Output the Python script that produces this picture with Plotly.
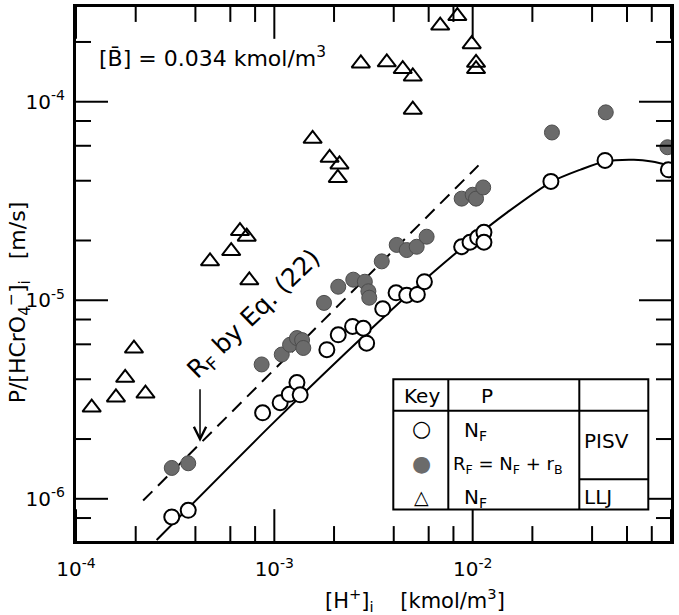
import plotly.graph_objects as go
import math

# ---------------- data ----------------
open_x = [3.04e-4, 3.68e-4, 8.73e-4, 1.07e-3, 1.19e-3, 1.30e-3, 1.35e-3, 1.84e-3, 2.10e-3,
          2.48e-3, 2.81e-3, 2.92e-3, 3.52e-3, 4.11e-3, 4.65e-3, 5.26e-3, 5.71e-3, 8.8e-3,
          9.7e-3, 1.06e-2, 1.14e-2, 1.14e-2, 2.48e-2, 4.65e-2, 9.7e-2]
open_y = [8.1e-7, 8.75e-7, 2.71e-6, 3.05e-6, 3.36e-6, 3.85e-6, 3.34e-6, 5.64e-6, 6.7e-6,
          7.38e-6, 7.23e-6, 6.08e-6, 9.06e-6, 1.09e-5, 1.06e-5, 1.07e-5, 1.24e-5, 1.86e-5,
          1.96e-5, 2.07e-5, 2.2e-5, 1.96e-5, 3.97e-5, 5.06e-5, 4.54e-5]

filled_x = [3.04e-4, 3.68e-4, 8.63e-4, 1.09e-3, 1.2e-3, 1.3e-3, 1.38e-3, 1.40e-3, 1.78e-3,
            2.10e-3, 2.50e-3, 2.86e-3, 2.98e-3, 3.01e-3, 3.48e-3, 4.14e-3, 4.65e-3, 5.22e-3,
            5.86e-3, 8.8e-3, 1.0e-2, 1.04e-2, 1.13e-2, 2.51e-2, 4.69e-2, 9.6e-2]
filled_y = [1.43e-6, 1.51e-6, 4.75e-6, 5.33e-6, 5.97e-6, 6.45e-6, 6.3e-6, 5.75e-6, 9.7e-6,
            1.17e-5, 1.27e-5, 1.24e-5, 1.11e-5, 1.03e-5, 1.57e-5, 1.90e-5, 1.79e-5, 1.86e-5,
            2.09e-5, 3.25e-5, 3.4e-5, 3.25e-5, 3.7e-5, 7.0e-5, 8.84e-5, 5.9e-5]

tri_x = [1.2e-4, 1.59e-4, 1.77e-4, 2.24e-4, 1.96e-4, 4.74e-4, 6.06e-4, 6.71e-4, 7.26e-4,
         7.48e-4, 1.56e-3, 1.90e-3, 2.13e-3, 2.09e-3, 2.73e-3, 3.69e-3, 4.44e-3, 4.99e-3,
         4.99e-3, 6.86e-3, 8.37e-3, 9.89e-3, 1.04e-2, 1.04e-2]
tri_y = [2.88e-6, 3.24e-6, 4.07e-6, 3.39e-6, 5.71e-6, 1.57e-5, 1.77e-5, 2.23e-5, 2.09e-5,
         1.26e-5, 6.5e-5, 5.22e-5, 4.83e-5, 4.13e-5, 1.56e-4, 1.58e-4, 1.46e-4, 1.34e-4,
         9.12e-5, 2.42e-4, 2.70e-4, 1.95e-4, 1.57e-4, 1.46e-4]

curve_x = [2.55e-4, 1e-3, 3e-3, 6e-3, 1e-2, 1.5e-2, 2.5e-2, 3.5e-2, 4.65e-2, 6.5e-2, 8e-2, 1e-1]
curve_y = [6.2e-7, 2.44e-6, 7.0e-6, 1.32e-5, 2.03e-5, 2.78e-5, 3.95e-5, 4.55e-5, 5.0e-5, 5.1e-5, 5.0e-5, 4.75e-5]

dash_x = [2.18e-4, 1.07e-2]
dash_y = [9.8e-7, 4.78e-5]

x_major = [1e-4, 1e-3, 1e-2, 1e-1]
x_major_text = ["10<sup>-4</sup>", "10<sup>-3</sup>", "10<sup>-2</sup>", "10<sup>-1</sup>"]
x_minor = [2e-4, 4e-4, 6e-4, 8e-4, 2e-3, 4e-3, 6e-3, 8e-3, 2e-2, 4e-2, 6e-2, 8e-2]
y_major = [1e-6, 1e-5, 1e-4]
y_major_text = ["10<sup>-6</sup>", "10<sup>-5</sup>", "10<sup>-4</sup>"]
y_minor = [8e-7, 2e-6, 4e-6, 6e-6, 8e-6, 2e-5, 4e-5, 6e-5, 8e-5, 2e-4]

x_range = [1e-4, 1e-1]
y_range = [6.13e-7, 3e-4]

arrow_tip = (4.22e-4, 1.94e-6)
eq_label_pos = (7.9e-4, 8.45e-6)

# ---------------- layout geometry (pixels) ----------------
W, H = 679, 615
L, R, T, B = 76, 8, 4, 74
PW, PH = W - L - R, H - T - B
FONT = "DejaVu Sans"
MAJ_LEN, MIN_LEN = 32, 15

x_lr = [math.log10(v) for v in x_range]
y_lr = [math.log10(v) for v in y_range]
x_dec_px = PW / (x_lr[1] - x_lr[0])
y_dec_px = PH / (y_lr[1] - y_lr[0])


def px(xp):
    return (xp - L) / PW


def py(yp):
    return (H - B - yp) / PH


fig = go.Figure()

fig.add_trace(go.Scatter(x=curve_x, y=curve_y, mode="lines",
                         line=dict(color="black", width=2, shape="spline", smoothing=0.8), hoverinfo="skip"))
fig.add_trace(go.Scatter(x=dash_x, y=dash_y, mode="lines",
                         line=dict(color="black", width=2, dash="13px,8px"), hoverinfo="skip"))
fig.add_trace(go.Scatter(x=tri_x, y=tri_y, mode="markers",
                         marker=dict(symbol="triangle-up-open", size=16, color="black", line=dict(width=2))))
fig.add_trace(go.Scatter(x=filled_x, y=filled_y, mode="markers",
                         marker=dict(symbol="circle", size=15, color="#6b6b6b", line=dict(color="#4d4d4d", width=1))))
fig.add_trace(go.Scatter(x=open_x, y=open_y, mode="markers",
                         marker=dict(symbol="circle", size=15, color="white", line=dict(color="black", width=2))))

# tick marks on all four sides, drawn as line segments in data space of the log axes
tx, ty = [], []
for vals, ln in ((x_major, MAJ_LEN), (x_minor, MIN_LEN)):
    f = 10 ** (ln / y_dec_px)
    for v in vals:
        tx += [v, v, None, v, v, None]
        ty += [y_range[0], y_range[0] * f, None, y_range[1] / f, y_range[1], None]
for vals, ln in ((y_major, MAJ_LEN), (y_minor, MIN_LEN)):
    f = 10 ** (ln / x_dec_px)
    for v in vals:
        tx += [x_range[0], x_range[0] * f, None, x_range[1] / f, x_range[1], None]
        ty += [v, v, None, v, v, None]
fig.add_trace(go.Scatter(x=tx, y=ty, mode="lines", line=dict(color="black", width=2),
                         hoverinfo="skip", connectgaps=False))

axis_common = dict(type="log", showgrid=False, zeroline=False, showline=True, linewidth=3, linecolor="black",
                   mirror=True, ticks="", tickfont=dict(family=FONT, size=20, color="black"))

fig.update_xaxes(**axis_common, range=x_lr, tickmode="array",
                 tickvals=x_major, ticktext=x_major_text, ticklabelstandoff=8)
fig.update_yaxes(**axis_common, range=y_lr, tickmode="array",
                 tickvals=y_major, ticktext=y_major_text, ticklabelstandoff=4)

shapes = []
# key table
bx0, bx1, by0, by1 = 393.3, 648.3, 378.3, 509.3
shapes.append(dict(type="rect", xref="paper", yref="paper", x0=px(bx0), x1=px(bx1), y0=py(by1), y1=py(by0),
                   line=dict(color="black", width=2), fillcolor="white", layer="above"))
shapes.append(dict(type="line", xref="paper", yref="paper", x0=px(bx0), x1=px(bx1), y0=py(410), y1=py(410),
                   line=dict(color="black", width=2), layer="above"))
for xv in (448.3, 579.3):
    shapes.append(dict(type="line", xref="paper", yref="paper", x0=px(xv), x1=px(xv), y0=py(by1), y1=py(by0),
                       line=dict(color="black", width=2), layer="above"))
shapes.append(dict(type="line", xref="paper", yref="paper", x0=px(579.3), x1=px(bx1), y0=py(479), y1=py(479),
                   line=dict(color="black", width=2), layer="above"))

ann = []


def txt(x, y, s, size=20, xanchor="center", color="black", angle=0):
    ann.append(dict(xref="paper", yref="paper", x=px(x), y=py(y), text=s, showarrow=False,
                    xanchor=xanchor, yanchor="middle", textangle=angle,
                    font=dict(family=FONT, size=size, color=color)))


txt(421.7, 395, "Key")
txt(486.7, 395, "P")
txt(421.7, 428.3, "○", size=22)
txt(421.7, 463.3, "●", size=22, color="#6b6b6b")
txt(421.7, 496.7, "△", size=19)
txt(461.7, 430, "N<sub>F</sub>", xanchor="left")
txt(451, 465, "R<sub>F</sub> = N<sub>F</sub> + r<sub>B</sub>", size=18, xanchor="left")
txt(461.7, 498, "N<sub>F</sub>", xanchor="left")
txt(582, 440.5, "PISV", xanchor="left")
txt(582, 496.7, "LLJ", xanchor="left")

txt(97, 54, "[B\u0304] = 0.034 kmol/m<sup>3</sup>", size=22, xanchor="left")
txt(415, 600, "[H<sup>+</sup>]<sub>i</sub>\u00a0\u00a0\u00a0\u00a0[kmol/m<sup>3</sup>]", size=21)
ann.append(dict(xref="paper", yref="paper", x=px(18), y=py(301),
                text="P/[HCrO<sub>4</sub><sup>−</sup>]<sub>i</sub>\u00a0\u00a0\u00a0[m/s]", showarrow=False,
                textangle=-90, xanchor="center", yanchor="middle", font=dict(family=FONT, size=22, color="black")))

ann.append(dict(xref="x", yref="y", x=math.log10(eq_label_pos[0]), y=math.log10(eq_label_pos[1]),
                text="R<sub>F</sub> by Eq. (22)", showarrow=False, textangle=-44,
                font=dict(family=FONT, size=25, color="black")))
ann.append(dict(xref="x", yref="y", x=math.log10(arrow_tip[0]), y=math.log10(arrow_tip[1]), text="",
                showarrow=True, arrowhead=5, arrowsize=1.6, arrowwidth=1.5, arrowcolor="black",
                ax=0, ay=-54))

fig.update_layout(width=W, height=H, margin=dict(l=L, r=R, t=T, b=B), showlegend=False,
                  plot_bgcolor="white", paper_bgcolor="white", shapes=shapes, annotations=ann,
                  font=dict(family=FONT, color="black"))

fig.write_html("out.html", config={"displayModeBar": False},
               post_script="document.body.style.margin='0px';document.body.style.padding='0px';")
